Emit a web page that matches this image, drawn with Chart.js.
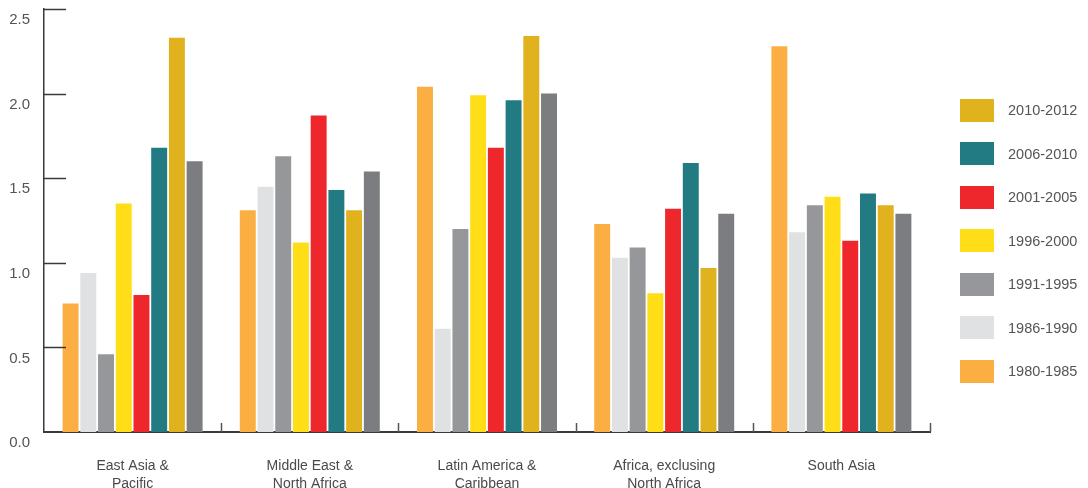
<!DOCTYPE html>
<html>
<head>
<meta charset="utf-8">
<script src="https://cdn.jsdelivr.net/npm/chart.js@4"></script>
<style>
  html, body { margin: 0; padding: 0; background: #fff; }
  #wrap { position: relative; width: 1088px; height: 488px; }
  #legend { position: absolute; left: 0; top: 0; }
  .li { position: absolute; left: 960px; height: 23px; display: flex; align-items: center; white-space: nowrap;
        font-family: "Liberation Sans", Arial, sans-serif; font-size: 14.5px; color: #555; }
  .sw { width: 34px; height: 23px; margin-right: 14px; }
</style>
</head>
<body>
<div id="wrap">
  <canvas id="c" width="1088" height="488"></canvas>
  <div id="legend"></div>
</div>
<script>
const categories = [
  ["East Asia &", "Pacific"],
  ["Middle East &", "North Africa"],
  ["Latin America &", "Caribbean"],
  ["Africa, exclusing", "North Africa"],
  ["South Asia"]
];
const seriesNames = ["1980-1985", "1986-1990", "1991-1995", "1996-2000", "2001-2005", "2006-2010", "2010-2012", ""];
const s1980 = [0.76, 1.31, 2.04, 1.23, 2.28];
const s1986 = [0.94, 1.45, 0.61, 1.03, 1.18];
const s1991 = [0.46, 1.63, 1.20, 1.09, 1.34];
const s1996 = [1.35, 1.12, 1.99, 0.82, 1.39];
const s2001 = [0.81, 1.87, 1.68, 1.32, 1.13];
const s2006 = [1.68, 1.43, 1.96, 1.59, 1.41];
const s2010 = [2.33, 1.31, 2.34, 0.97, 1.34];
const sOther = [1.60, 1.54, 2.00, 1.29, 1.29];
const yTicks = [0, 0.5, 1.0, 1.5, 2.0, 2.5];

const colors = ["#FBAF42", "#E0E1E3", "#96979B", "#FFDD17", "#EE272C", "#227B83", "#E0B21E", "#7C7D81"];
const values = [s1980, s1986, s1991, s1996, s2001, s2006, s2010, sOther];

const datasets = values.map((v, i) => ({
  label: seriesNames[i],
  data: v,
  backgroundColor: colors[i],
  borderWidth: 0,
  categoryPercentage: 0.8,
  barPercentage: 0.9
}));

const innerTicks = {
  id: 'innerTicks',
  afterDraw(chart) {
    const ctx = chart.ctx;
    const ys = chart.scales.y, xs = chart.scales.x;
    const ca = chart.chartArea;
    ctx.save();
    ctx.strokeStyle = '#3a3a3a';
    ctx.lineWidth = 1.5;
    yTicks.forEach(t => {
      if (t === 0) return;
      const y = Math.round(ys.getPixelForValue(t)) + 0.5;
      ctx.beginPath();
      ctx.moveTo(ca.left, y);
      ctx.lineTo(ca.left + 22, y);
      ctx.stroke();
    });
    ctx.strokeStyle = '#555';
    const step = xs.getPixelForValue(1) - xs.getPixelForValue(0);
    for (let i = 0; i < categories.length; i++) {
      const x = Math.round(xs.getPixelForValue(i) + step / 2) + 0.5;
      ctx.beginPath();
      ctx.moveTo(x, ca.bottom);
      ctx.lineTo(x, ca.bottom - 9);
      ctx.stroke();
    }
    ctx.restore();
  }
};

new Chart(document.getElementById('c'), {
  type: 'bar',
  data: { labels: categories, datasets },
  options: {
    responsive: false,
    animation: false,
    layout: { padding: { top: 9, right: 158, left: 0, bottom: 0 } },
    plugins: { legend: { display: false }, tooltip: { enabled: false } },
    scales: {
      x: {
        grid: { display: false, drawTicks: false },
        border: { display: true, color: '#3a3a3a', width: 2 },
        ticks: {
          color: '#4a4a4a',
          padding: 25,
          maxRotation: 0,
          font: { family: '"Liberation Sans", Arial, sans-serif', size: 14, lineHeight: 1.286 }
        },
        afterFit(s) { s.height = 56; s.paddingLeft = 0; s.paddingRight = 0; }
      },
      y: {
        min: 0, max: 2.5,
        grid: { display: false, drawTicks: false },
        border: { display: true, color: '#3a3a3a', width: 1.5 },
        afterBuildTicks(s) { s.ticks = yTicks.map(v => ({ value: v })); },
        ticks: {
          color: '#555',
          padding: 14,
          labelOffset: 11,
          font: { family: '"Liberation Sans", Arial, sans-serif', size: 15 },
          callback: v => Number(v).toFixed(1)
        },
        afterFit(s) { s.width = 44; s.paddingTop = 0; s.paddingBottom = 0; }
      }
    }
  },
  plugins: [innerTicks]
});

// Legend (reverse order, unlabeled last series omitted)
const legend = document.getElementById('legend');
const order = [6, 5, 4, 3, 2, 1, 0];
order.forEach((idx, k) => {
  const d = document.createElement('div');
  d.className = 'li';
  d.style.top = (98.5 + k * 43.5) + 'px';
  const sw = document.createElement('div');
  sw.className = 'sw';
  sw.style.background = colors[idx];
  const tx = document.createElement('span');
  tx.textContent = seriesNames[idx];
  d.appendChild(sw);
  d.appendChild(tx);
  legend.appendChild(d);
});
</script>
</body>
</html>
